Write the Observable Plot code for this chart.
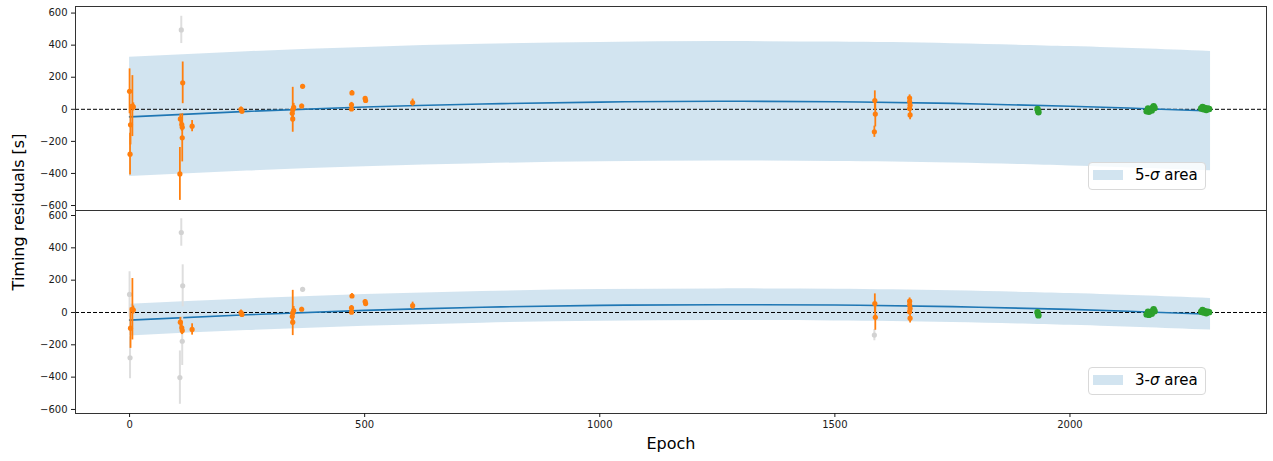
<!DOCTYPE html>
<html>
<head>
<meta charset="utf-8">
<script src="https://cdn.jsdelivr.net/npm/d3@7"></script>
<script src="https://cdn.jsdelivr.net/npm/@observablehq/plot@0.6"></script>
<style>
  body { margin: 0; background: #fff; font-family: "DejaVu Sans", sans-serif; }
  #wrap { position: relative; width: 1273px; height: 461px; }
  #topPanel, #bottomPanel { position: absolute; left: 0; }
  #topPanel { top: 0; }
  #bottomPanel { top: 210px; }
  .ylab { position: absolute; left: 18px; top: 212px; transform: translate(-50%, -50%) rotate(-90deg);
          font-size: 16px; white-space: nowrap; color: #000; }
  .legend { position: absolute; left: 1088px; width: 116px; height: 26px; border: 1px solid #d9d9d9;
            border-radius: 4px; background: rgba(255,255,255,0.8); }
  .legend .sw { position: absolute; left: 4px; top: 7px; width: 30px; height: 10px; background: rgba(31,119,180,0.2); }
  .legend .tx { position: absolute; left: 46px; top: 3px; font-size: 15px; line-height: 19px; color: #000; }
</style>
</head>
<body>
<div id="wrap">
  <div id="topPanel"></div>
  <div id="bottomPanel"></div>
  <div class="ylab">Timing residuals [s]</div>
  <div class="legend" style="top:162px"><div class="sw"></div><div class="tx">5-<i>σ</i> area</div></div>
  <div class="legend" style="top:367px"><div class="sw"></div><div class="tx">3-<i>σ</i> area</div></div>
</div>
<script>
// Older timings (orange): epoch, residual [s], 1-sigma uncertainty [s]
const oldEpoch = [0, 1, 6, 2, 8,
  110, 113, 108, 111, 112, 112, 107,
  133,
  237, 239,
  347, 346, 347, 349,
  368, 366,
  473, 472, 472,
  501, 502,
  602,
  1585, 1586, 1584,
  1659, 1659, 1660, 1659, 1660];
const oldResid = [112, -280, 20, -97, 15,
  495, 165, -60, -95, -112, -178, -403,
  -105,
  0, -12,
  -3, -25, -60, 12,
  143, 20,
  102, 28, 2,
  68, 55,
  42,
  55, -30, -140,
  70, 48, 25, 5, -35];
const oldErr = [140, 130, 190, 125, 25,
  85, 130, 30, 40, 25, 150, 165,
  35,
  15, 18,
  140, 30, 20, 25,
  12, 12,
  15, 15, 12,
  12, 10,
  22,
  60, 80, 35,
  20, 30, 25, 20, 30];
// 1 = rejected by the 5-sigma / 3-sigma clipping
const cut5 = [0, 0, 0, 0, 0,
  1, 0, 0, 0, 0, 0, 0,
  0,
  0, 0,
  0, 0, 0, 0,
  0, 0,
  0, 0, 0,
  0, 0,
  0,
  0, 0, 0,
  0, 0, 0, 0, 0];
const cut3 = [1, 1, 0, 0, 0,
  1, 1, 0, 0, 0, 1, 1,
  0,
  0, 0,
  0, 0, 0, 0,
  1, 0,
  0, 0, 0,
  0, 0,
  0,
  0, 0, 1,
  0, 0, 0, 0, 0];

// Recent timings (green)
const newEpoch = [1931, 1932, 1933,
  2163, 2166, 2168, 2170, 2171, 2174, 2176, 2178, 2180,
  2279, 2282, 2284, 2287, 2290, 2293, 2296];
const newResid = [2, -8, -18,
  -12, 5, -15, -5, 0, -8, 10, 20, 8,
  5, 15, 0, 8, -5, 5, 2];
const newErr = [6, 6, 6,
  6, 6, 6, 6, 6, 6, 6, 6, 6,
  5, 6, 6, 5, 5, 5, 5];

// Quadratic ephemeris fits and their confidence bands
const fitEpoch = [0, 250, 500, 750, 1000, 1250, 1500, 1750, 2000, 2150, 2299];
const fit5 = [-47, -13, 14, 33, 45, 50, 47, 37, 19, 5, -11];
const upper5 = [325, 359, 386, 405, 417, 422, 419, 409, 391, 377, 361];
const lower5 = [-419, -385, -358, -339, -327, -322, -325, -335, -353, -367, -383];
const fit3 = [-47, -14, 13, 32, 44, 48, 46, 36, 19, 5, -11];
const upper3 = [51, 84, 111, 130, 142, 146, 144, 134, 117, 103, 87];
const lower3 = [-145, -112, -85, -66, -54, -50, -52, -62, -79, -93, -109];

const yTicks = [-600, -400, -200, 0, 200, 400, 600];
const xTicks = [0, 500, 1000, 1500, 2000];
const xDomain = [-115, 2418];

const oldPts = oldEpoch.map((e, i) => ({epoch: e, resid: oldResid[i], err: oldErr[i], cut5: cut5[i], cut3: cut3[i]}));
const newPts = newEpoch.map((e, i) => ({epoch: e, resid: newResid[i], err: newErr[i]}));
const band5 = fitEpoch.map((e, i) => ({epoch: e, fit: fit5[i], lo: lower5[i], hi: upper5[i]}));
const band3 = fitEpoch.map((e, i) => ({epoch: e, fit: fit3[i], lo: lower3[i], hi: upper3[i]}));

const ORANGE = "#ff7f0e", GREEN = "#2ca02c", BLUE = "#1f77b4", GREY = "#dedede";
const fmt = d3.format("d");

function residualMarks(band, cutKey) {
  const kept = oldPts.filter(d => !d[cutKey]);
  const cut = oldPts.filter(d => d[cutKey]);
  const bar = (data, color, w) => Plot.ruleX(data, {x: "epoch", y1: d => d.resid - d.err, y2: d => d.resid + d.err, stroke: color, strokeWidth: w});
  const dot = (data, color, r) => Plot.dot(data, {x: "epoch", y: "resid", r, fill: color, stroke: "none"});
  return [
    Plot.areaY(band, {x: "epoch", y1: "lo", y2: "hi", fill: BLUE, fillOpacity: 0.2, curve: "natural"}),
    Plot.ruleY([0], {stroke: "#000", strokeWidth: 1, strokeDasharray: "4,2"}),
    Plot.line(band, {x: "epoch", y: "fit", stroke: BLUE, strokeWidth: 1.6, curve: "natural"}),
    bar(cut, GREY, 2), dot(cut, "#d2d2d2", 2.6),
    bar(kept, ORANGE, 1.8), dot(kept, ORANGE, 2.6),
    bar(newPts, GREEN, 1.8), dot(newPts, GREEN, 3.2),
    Plot.axisY({ticks: yTicks, tickSize: 4, tickPadding: 4, tickFormat: fmt, label: null, fontSize: 10}),
    Plot.frame({stroke: "#333", strokeWidth: 1})
  ];
}

const common = {
  width: 1273, marginLeft: 75, marginRight: 7,
  style: {background: "transparent", overflow: "visible", fontFamily: "DejaVu Sans, sans-serif", fontSize: "10px", color: "#1a1a1a"}
};

const topPlot = Plot.plot({
  ...common, height: 210, marginTop: 6, marginBottom: 0,
  x: {domain: xDomain, axis: null},
  y: {domain: [-631, 641]},
  marks: residualMarks(band5, "cut5")
});

const bottomPlot = Plot.plot({
  ...common, height: 251, marginTop: 0, marginBottom: 48,
  x: {domain: xDomain},
  y: {domain: [-625, 631]},
  marks: [
    ...residualMarks(band3, "cut3"),
    Plot.axisX({ticks: xTicks, tickSize: 4, tickPadding: 3, tickFormat: fmt, label: null, fontSize: 10}),
    Plot.text(["Epoch"], {frameAnchor: "bottom", dy: 35, text: d => d, fontSize: 16, fill: "#000"})
  ]
});

document.getElementById("topPanel").appendChild(topPlot);
document.getElementById("bottomPanel").appendChild(bottomPlot);
</script>
</body>
</html>
